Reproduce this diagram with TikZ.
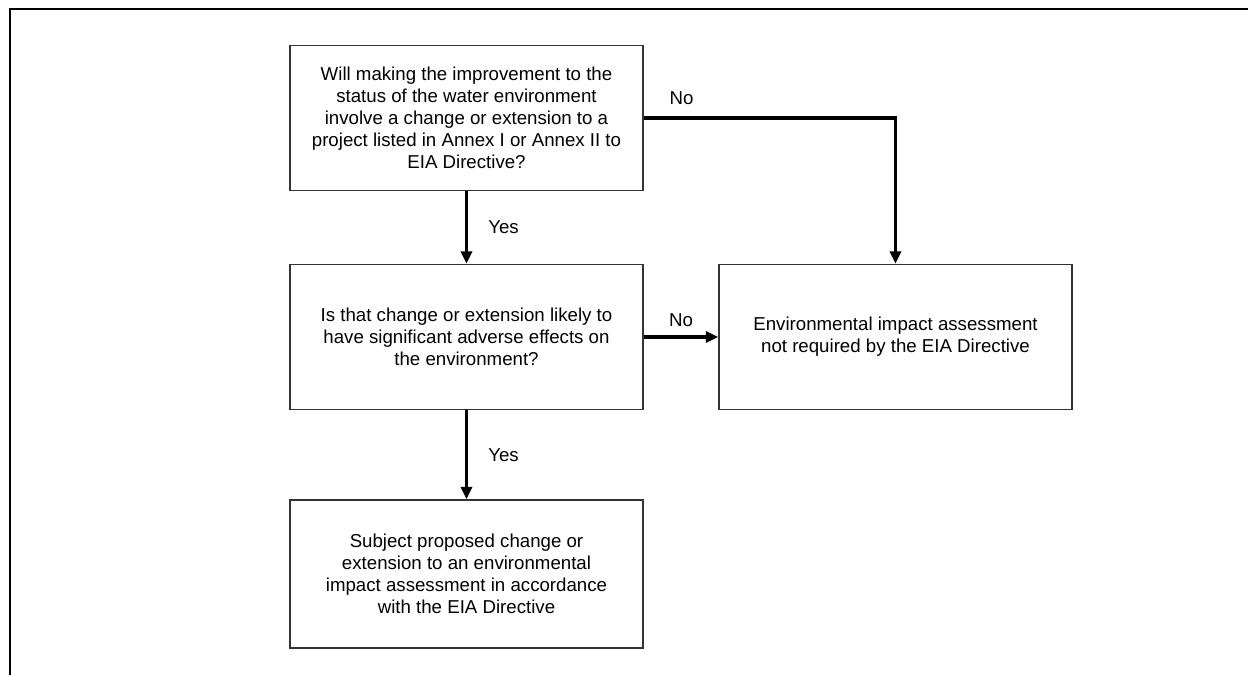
\documentclass[tikz,border=0pt]{standalone}
\usepackage{fontspec}
\setmainfont{Liberation Sans}
\usepackage{tikz}
\usetikzlibrary{shapes,arrows,arrows.meta,positioning,calc}

\begin{document}
\begin{tikzpicture}[
    x=0.6pt, y=-0.6pt,
    every node/.style={font=\fontsize{11.2}{13.2}\selectfont},
    question/.style={rectangle, draw=black!80, line width=0.9pt, align=center, minimum width=211.8pt, minimum height=87pt, inner sep=0pt},
    flow/.style={-{Triangle[length=7.5pt,width=6.6pt]}, line width=2.2pt},
    answer/.style={inner sep=2pt}
]
\useasboundingbox (0,0) rectangle (1248,675);

% frame
\draw[line width=1.4pt] (1248,9) -- (10,9) -- (10,675);

\node[question] (improve) at (466.5,118) {Will making the improvement to the\\status of the water environment\\involve a change or extension to a\\project listed in Annex I or Annex II to\\EIA Directive?};
\node[question] (effects) at (466.5,337) {Is that change or extension likely to\\have significant adverse effects on\\the environment?};
\node[question] (notreq) at (895.5,337) {Environmental impact assessment\\not required by the EIA Directive};
\node[question, minimum height=88.8pt] (subject) at (466.5,574) {Subject proposed change or\\extension to an environmental\\impact assessment in accordance\\with the EIA Directive};

\draw[flow] (improve) -- node[answer, right, xshift=10pt] {Yes} (effects);
\draw[flow] (effects) -- node[answer, right, xshift=10pt] {Yes} (subject);
\draw[flow] (effects) -- node[answer, above, yshift=3pt] {No} (notreq);
\draw[flow] (improve.east) -- node[answer, above, pos=0.15, yshift=5pt] {No} (improve.east -| notreq.north) -- (notreq.north);

\end{tikzpicture}
\end{document}
